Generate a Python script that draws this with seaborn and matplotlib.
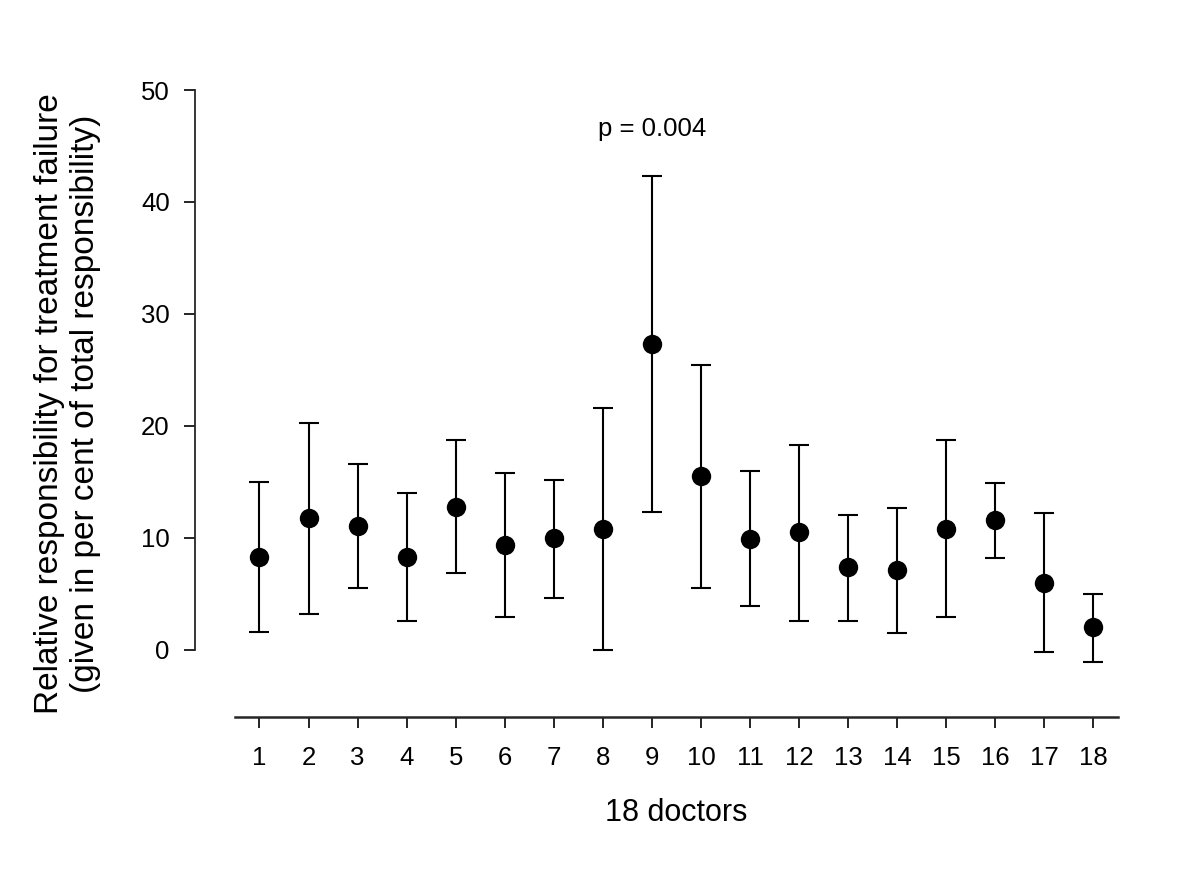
import matplotlib
matplotlib.use("Agg")
from matplotlib import pyplot as plt
import seaborn as sns
import pandas as pd
import numpy as np

# values
doctors = list(range(1, 19))
mean_resp = [8.3, 11.8, 11.1, 8.3, 12.8, 9.4, 10.0, 10.8, 27.3,
             15.5, 9.9, 10.5, 7.4, 7.1, 10.8, 11.6, 6.0, 2.0]
upper = [15.0, 20.3, 16.6, 14.0, 18.7, 15.8, 15.2, 21.6, 42.3,
         25.4, 16.0, 18.3, 12.0, 12.7, 18.7, 14.9, 12.2, 5.0]
lower = [1.6, 3.2, 5.5, 2.6, 6.9, 2.9, 4.6, 0.0, 12.3,
         5.5, 3.9, 2.6, 2.6, 1.5, 2.9, 8.2, -0.2, -1.1]
y_ticks = [0, 10, 20, 30, 40, 50]

df = pd.DataFrame({"doctor": doctors, "mean": mean_resp,
                   "upper": upper, "lower": lower})

sns.set_style("ticks")
plt.rcParams['font.family'] = ['Liberation Sans', 'DejaVu Sans']
plt.rcParams['text.color'] = 'black'
plt.rcParams['axes.labelcolor'] = 'black'
plt.rcParams['xtick.color'] = 'black'
plt.rcParams['ytick.color'] = 'black'

fig = plt.figure(figsize=(12, 8.8), dpi=100)
ax = fig.add_axes([0.1958, 0.1852, 0.7358, 0.7125])

# spines first: moving a spine resets its ticks
ax.spines["top"].set_visible(False)
ax.spines["right"].set_visible(False)
ax.spines["left"].set_position(("outward", 29))
ax.spines["left"].set_bounds(0, 50)
ax.spines["left"].set_linewidth(1.3)
ax.spines["bottom"].set_linewidth(1.8)

# error bars (asymmetric)
yerr = np.vstack([df["mean"] - df["lower"], df["upper"] - df["mean"]])
ax.errorbar(df["doctor"], df["mean"], yerr=yerr, fmt="none",
            ecolor="black", elinewidth=1.5, capsize=7.5, capthick=1.5)
sns.scatterplot(data=df, x="doctor", y="mean", ax=ax, color="black",
                s=195, edgecolor="black", linewidth=0, zorder=3)

ax.set_xlim(0.5, 18.5)
ax.set_ylim(-6, 50)
ax.set_xticks(doctors)
ax.set_xticklabels([str(d) for d in doctors], fontsize=18.5)
ax.set_yticks(y_ticks)
ax.set_yticklabels([str(t) for t in y_ticks], fontsize=18.5)

ax.tick_params(axis="both", direction="out", length=8, width=1.2,
               color="black", labelcolor="black")
ax.tick_params(axis="x", pad=13)
ax.tick_params(axis="y", pad=10)

ax.set_xlabel("18 doctors", fontsize=22, labelpad=20)
ax.set_ylabel("Relative responsibility for treatment failure\n"
              "(given in per cent of total responsibility)",
              fontsize=24, labelpad=29, linespacing=1.2)

ax.text(9, 46.5, "p = 0.004", fontsize=18.5, ha="center", va="center")

fig.savefig("out.png", dpi=100)
